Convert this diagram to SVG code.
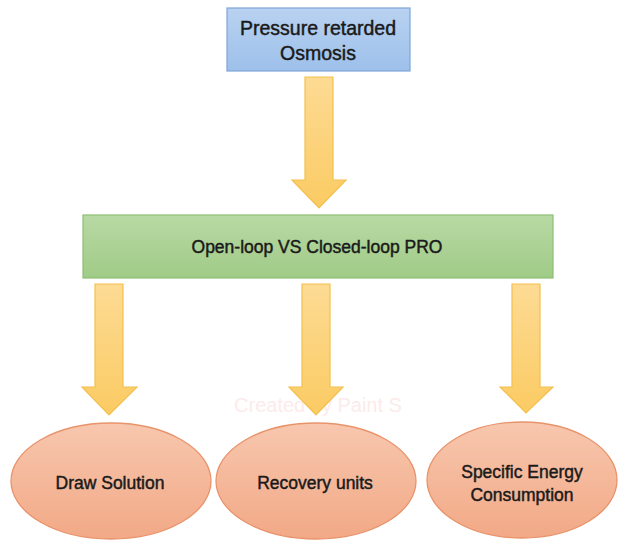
<svg xmlns="http://www.w3.org/2000/svg" width="619" height="540" viewBox="0 0 619 540">
<defs>
<linearGradient id="gBlue" x1="0" y1="0" x2="0" y2="1"><stop offset="0" stop-color="#b9d2f1"/><stop offset="1" stop-color="#9dc0ea"/></linearGradient>
<linearGradient id="gGreen" x1="0" y1="0" x2="0" y2="1"><stop offset="0" stop-color="#b8d9a4"/><stop offset="1" stop-color="#a0cb87"/></linearGradient>
<linearGradient id="gOrange" x1="0" y1="0" x2="0" y2="1"><stop offset="0" stop-color="#f7c7ae"/><stop offset="1" stop-color="#f2a986"/></linearGradient>
<linearGradient id="gArrow" x1="0" y1="0" x2="0" y2="1"><stop offset="0" stop-color="#fddb94"/><stop offset="1" stop-color="#fbcb63"/></linearGradient>
</defs>
<style>
.t{font-family:"Liberation Sans","Open Sans",sans-serif;fill:#1a1a1a;stroke:#1a1a1a;stroke-width:0.45;text-anchor:middle}
.box-b{fill:url(#gBlue);stroke:#7fa5d7;stroke-width:1.2}
.box-g{fill:url(#gGreen);stroke:#8dbf73;stroke-width:1.2}
.ell{fill:url(#gOrange);stroke:#e9936b;stroke-width:1.3}
.arr{fill:url(#gArrow);stroke:#f4c04d;stroke-width:1.2;stroke-linejoin:miter}
</style>
<rect width="619" height="540" fill="#ffffff"/>
<text x="318" y="412" font-family="Liberation Sans, sans-serif" font-size="20" fill="#fcebeb" text-anchor="middle">Created by Paint S</text>
<g id="n1">
<rect class="box-b" x="227" y="8" width="183" height="63"/>
<text class="t" x="318" y="35" font-size="19.5">Pressure retarded</text>
<text class="t" x="318" y="60" font-size="19.5">Osmosis</text>
</g>
<g id="n2">
<rect class="box-g" x="83" y="215" width="470" height="63"/>
<text class="t" x="317" y="253" font-size="17.5">Open-loop VS Closed-loop PRO</text>
</g>
<g id="n3">
<ellipse class="ell" cx="111" cy="481" rx="100" ry="58"/>
<text class="t" x="110" y="489" font-size="17.5">Draw Solution</text>
</g>
<g id="n4">
<ellipse class="ell" cx="316" cy="481" rx="100" ry="58"/>
<text class="t" x="315" y="489" font-size="17.5">Recovery units</text>
</g>
<g id="n5">
<ellipse class="ell" cx="522" cy="480" rx="95" ry="58"/>
<text class="t" x="522" y="478" font-size="17.5">Specific Energy</text>
<text class="t" x="522" y="501" font-size="17.5">Consumption</text>
</g>
<g id="connectors">
<path class="arr" d="M305 77 H333 V180 H346 L319 208 L292 180 H305 Z"/>
<path class="arr" d="M95 284 H123 V387 H137 L109 415 L82 387 H95 Z"/>
<path class="arr" d="M302 284 H330 V387 H343 L316 415 L289 387 H302 Z"/>
<path class="arr" d="M512 284 H540 V387 H553 L526 413 L500 387 H512 Z"/>
</g>
</svg>
